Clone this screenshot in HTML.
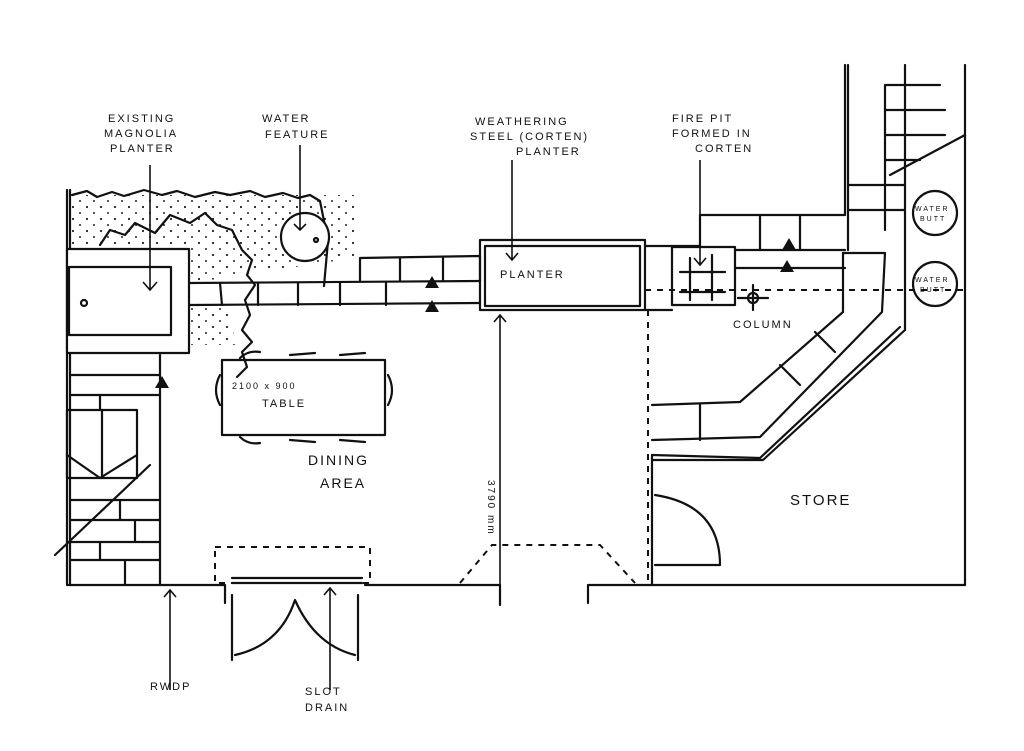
<!DOCTYPE html>
<html><head><style>
html,body{margin:0;padding:0;background:#fff;}
svg{display:block;}
text{font-family:"Liberation Sans",sans-serif;fill:#111;letter-spacing:2px;}
</style></head><body>
<svg width="1024" height="751" viewBox="0 0 1024 751" xmlns="http://www.w3.org/2000/svg">
<defs>
<pattern id="dots" width="14" height="12" patternUnits="userSpaceOnUse">
<circle cx="3" cy="3" r="1.1" fill="#222"/><circle cx="10" cy="9" r="1" fill="#222"/>
</pattern>
</defs>
<rect width="1024" height="751" fill="#fff"/>
<path d="M72 195 L355 195 L355 258 L190 283 L190 249 L72 249 Z" fill="url(#dots)"/>
<path d="M190 305 L230 305 L235 345 L190 345 Z" fill="url(#dots)"/>
<g fill="none" stroke="#111" stroke-width="2.2" stroke-linecap="round" stroke-linejoin="round">
<path d="M67 190 L67 585 L160 585"/>
<path d="M70 190 L70 585"/>
<path d="M72 195 l15 -4 l10 6 l15 -5 l12 4 l20 -6 l18 5 l15 -4 l18 6 l20 -5 l15 3 l20 -4 l15 6 l18 -4 l15 5 l12 -3 l10 6 l8 40 l-4 45"/>
<path d="M100 245 l10 -15 l15 5 l10 -12 l20 10 l15 -18 l20 8 l15 -10 l12 12 l15 5 l10 20 l10 10 l-5 15 l8 10 l-10 15 l5 15 l-8 15 l10 12 l-10 10 l5 15 l-10 10"/>
<rect x="67" y="249" width="122" height="104" fill="#fff"/>
<rect x="69" y="267" width="102" height="68"/>
<circle cx="84" cy="303" r="3"/>
<circle cx="305" cy="237" r="24" fill="#fff"/>
<circle cx="316" cy="240" r="2"/>
<path d="M190 283 L480 281 M190 305 L480 303"/>
<path d="M360 258 L480 256 L480 281 M360 258 L360 281"/>
<path d="M220 283 L222 305 M258 283 L258 305 M298 283 L298 305 M340 283 L340 305 M386 283 L386 305 M400 258 L400 281 M443 258 L443 281"/>
<rect x="480" y="240" width="165" height="70"/>
<rect x="485" y="246" width="155" height="60"/>
<path d="M645 246 L700 246 L700 215 L845 215 L845 65"/>
<path d="M645 310 L672 310"/>
<rect x="672" y="247" width="63" height="58"/>
<path d="M690 258 L690 300 M712 255 L712 300 M680 272 L725 272 M680 292 L725 292"/>
<path d="M735 250 L845 250 M735 268 L845 268 M760 215 L760 250 M800 215 L800 250"/>
<path d="M848 65 L848 250 M885 85 L885 230 M885 85 L940 85 M885 110 L945 110 M885 135 L945 135 M885 160 L920 160 M848 185 L905 185 M848 210 L905 210 M905 65 L905 330 M890 175 L965 135"/>
<path d="M965 65 L965 585"/>
<circle cx="935" cy="213" r="22"/>
<circle cx="935" cy="284" r="22"/>
<path d="M843 253 L885 253 L882 312 L760 437 L652 440"/>
<path d="M843 253 L843 312 L740 402 L652 405"/>
<path d="M700 405 L700 440 M780 365 L800 385 M815 332 L835 352"/>
<path d="M652 455 L760 458 L900 327"/>
<path d="M652 460 L763 460 L905 330"/>
<path d="M652 455 L652 585 L655 585"/>
<path d="M655 495 Q720 505 720 565 L655 565"/>
<path d="M655 585 L965 585 M588 585 L652 585 M588 585 L588 603"/>
<path d="M160 355 L160 585"/>
<path d="M160 585 L225 585 L225 603 M365 585 L500 585 L500 605"/>
<path d="M232 578 L362 578 M232 583 L362 583"/>
<path d="M232 595 L232 660 M358 595 L358 660"/>
<path d="M235 655 Q280 645 295 600 Q315 645 355 655"/>
<path d="M70 375 L160 375 M70 395 L160 395 M70 500 L160 500 M70 520 L160 520 M70 542 L160 542 M70 560 L160 560 M100 395 L100 410 M120 500 L120 520 M135 520 L135 542 M100 542 L100 560 M125 560 L125 585"/>
<rect x="67" y="410" width="70" height="68"/>
<path d="M67 455 L100 478 L137 455 M102 410 L102 478"/>
<path d="M55 555 L150 465"/>
<rect x="222" y="360" width="163" height="75"/>
<path d="M240 358 q8 -8 20 -6 M290 355 l25 -2 M340 355 l25 -2 M240 437 q8 8 20 6 M290 440 l25 2 M340 440 l25 2 M388 375 q8 15 0 30 M220 375 q-8 15 0 30"/>
<circle cx="753" cy="298" r="5"/>
<path d="M738 298 L768 298 M753 285 L753 310"/>
</g>
<g fill="none" stroke="#111" stroke-width="2" stroke-dasharray="6 6">
<rect x="215" y="547" width="155" height="36"/>
<path d="M648 310 L648 580"/>
<path d="M645 290 L965 290"/>
<path d="M460 583 L492 545 L600 545 L635 583"/>
</g>
<g fill="none" stroke="#111" stroke-width="1.6">
<path d="M150 165 L150 290 M143 282 L150 290 L157 282"/>
<path d="M300 145 L300 230 M294 224 L300 230 L306 224"/>
<path d="M512 160 L512 260 M506 253 L512 260 L518 253"/>
<path d="M700 160 L700 265 M694 258 L700 265 L706 258"/>
<path d="M500 315 L500 590 M494 322 L500 315 L506 322"/>
<path d="M170 590 L170 690 M164 597 L170 590 L176 597"/>
<path d="M330 588 L330 690 M324 595 L330 588 L336 595"/>
</g>
<g fill="#111">
<path d="M425 288 l7 -12 l7 12z M425 312 l7 -12 l7 12z M782 250 l7 -12 l7 12z M780 272 l7 -12 l7 12z M155 388 l7 -12 l7 12z"/>
</g>
<g font-size="11">
<text x="108" y="122">EXISTING</text>
<text x="104" y="137">MAGNOLIA</text>
<text x="110" y="152">PLANTER</text>
<text x="262" y="122">WATER</text>
<text x="265" y="138">FEATURE</text>
<text x="475" y="125">WEATHERING</text>
<text x="470" y="140">STEEL (CORTEN)</text>
<text x="516" y="155">PLANTER</text>
<text x="672" y="122">FIRE PIT</text>
<text x="672" y="137">FORMED IN</text>
<text x="695" y="152">CORTEN</text>
<text x="500" y="278">PLANTER</text>
<text x="733" y="328">COLUMN</text>
<text x="232" y="389" font-size="9">2100 x 900</text>
<text x="262" y="407">TABLE</text>
<text x="308" y="465" font-size="14">DINING</text>
<text x="320" y="488" font-size="14">AREA</text>
<text x="790" y="505" font-size="15" letter-spacing="5">STORE</text>
<text x="150" y="690">RWDP</text>
<text x="305" y="695">SLOT</text>
<text x="305" y="711">DRAIN</text>
<text x="915" y="211" font-size="7" letter-spacing="0">WATER</text>
<text x="920" y="221" font-size="7" letter-spacing="0">BUTT</text>
<text x="915" y="282" font-size="7" letter-spacing="0">WATER</text>
<text x="920" y="292" font-size="7" letter-spacing="0">BUTT</text>
<text transform="translate(488 480) rotate(90)" font-size="10">3790 mm</text>
</g>
</svg>
</body></html>
